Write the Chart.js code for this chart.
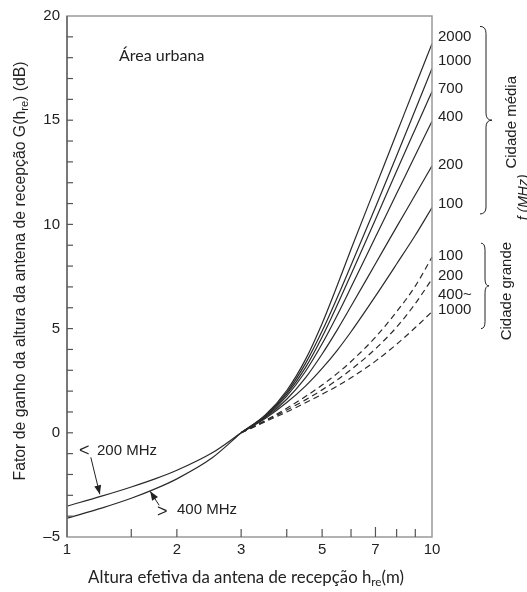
<!DOCTYPE html>
<html>
<head>
<meta charset="utf-8">
<title>Fator de ganho da altura da antena de recepção</title>
<script src="https://cdn.jsdelivr.net/npm/chart.js@4.4.0/dist/chart.umd.min.js"></script>
<style>
  html, body { margin: 0; padding: 0; background: #fff; }
  #wrap { width: 527px; height: 592px; overflow: hidden; }
</style>
</head>
<body>
<div id="wrap"><canvas id="grafico" width="527" height="592"></canvas></div>
<script>
// altura efetiva h_re (m), trecho comum 1..3 m
var alturaEsq = [1, 1.25, 1.5, 1.75, 2, 2.5, 3];
var abaixo200 = [-3.52, -3.03, -2.6, -2.2, -1.8, -0.96, 0];
var acima400  = [-4.1, -3.6, -3.14, -2.68, -2.21, -1.2, 0];

// trecho 3..10 m
var alturaDir = [3, 3.5, 4, 4.5, 5, 5.5, 6, 7, 8, 9, 10];
// cidade média (linhas cheias)
var media2000 = [0, 0.87, 2.03, 3.51, 5.25, 7.07, 8.81, 11.79, 14.37, 16.65, 18.67];
var media1000 = [0, 0.84, 1.94, 3.32, 4.88, 6.49, 8.04, 10.82, 13.29, 15.5, 17.48];
var media700  = [0, 0.8, 1.85, 3.13, 4.6, 6.13, 7.6, 10.24, 12.56, 14.58, 16.38];
var media400  = [0, 0.77, 1.76, 2.94, 4.27, 5.64, 6.98, 9.39, 11.48, 13.32, 14.95];
var media200  = [0, 0.74, 1.61, 2.63, 3.78, 4.94, 6.07, 8.11, 9.88, 11.42, 12.81];
var media100  = [0, 0.7, 1.45, 2.24, 3.09, 3.96, 4.85, 6.56, 8.1, 9.48, 10.81];
// cidade grande (tracejadas)
var grande100 = [0, 0.6, 1.18, 1.74, 2.29, 2.85, 3.42, 4.59, 5.81, 7.04, 8.43];
var grande200 = [0, 0.57, 1.09, 1.58, 2.06, 2.54, 3.03, 4.03, 5.07, 6.2, 7.38];
var grande400 = [0, 0.54, 1.0, 1.44, 1.85, 2.24, 2.64, 3.44, 4.25, 5.05, 5.81];

var rotulosMedia  = ['2000', '1000', '700', '400', '200', '100'];
var rotulosGrande = ['100', '200', '400~', '1000'];
// altura dos rótulos à direita (em dB)
var posMedia  = [19.0, 17.86, 16.48, 15.14, 12.86, 11.0];
var posGrande = [8.48, 7.52, 6.62, 5.9];

var xRotulos = [1, 2, 3, 5, 7, 10];
var xMarcas  = [1.5, 2, 3, 4, 5, 6, 7, 8, 9];
var yRotulos = [-5, 0, 5, 10, 15, 20];

var COR = '#2a2a2a';
var ARIAL = '"Liberation Sans", Arial, sans-serif';
var CALIBRI = 'Lato, "Open Sans", sans-serif';

function pontos(xs, ys) {
    return xs.map(function (x, i) { return { x: x, y: ys[i] }; });
}
function serie(xs, ys, tracejada) {
    return {
        data: pontos(xs, ys),
        borderColor: COR,
        borderWidth: 1.2,
        borderDash: tracejada ? [6, 4] : [],
        pointRadius: 0,
        cubicInterpolationMode: 'monotone',
        fill: false
    };
}

function seta(ctx, x1, y1, x2, y2) {
    var a = Math.atan2(y2 - y1, x2 - x1);
    ctx.beginPath();
    ctx.moveTo(x1, y1);
    ctx.lineTo(x2, y2);
    ctx.stroke();
    ctx.beginPath();
    ctx.moveTo(x2, y2);
    ctx.lineTo(x2 - 9 * Math.cos(a) + 3.5 * Math.sin(a), y2 - 9 * Math.sin(a) - 3.5 * Math.cos(a));
    ctx.lineTo(x2 - 9 * Math.cos(a) - 3.5 * Math.sin(a), y2 - 9 * Math.sin(a) + 3.5 * Math.cos(a));
    ctx.closePath();
    ctx.fill();
}

function chave(ctx, x, y1, y2, w) {
    var ym = (y1 + y2) / 2, r = 7, xm = x + w / 2;
    ctx.beginPath();
    ctx.moveTo(x, y1);
    ctx.quadraticCurveTo(xm, y1, xm, y1 + r);
    ctx.lineTo(xm, ym - r);
    ctx.quadraticCurveTo(xm, ym, x + w, ym);
    ctx.quadraticCurveTo(xm, ym, xm, ym + r);
    ctx.lineTo(xm, y2 - r);
    ctx.quadraticCurveTo(xm, y2, x, y2);
    ctx.stroke();
}

// texto com subscrito "re"
function textoSub(ctx, partes, x, y, tam, familia) {
    var total = 0;
    partes.forEach(function (p) {
        ctx.font = (p.sub ? tam * 0.7 : tam) + 'px ' + familia;
        total += ctx.measureText(p.t).width;
    });
    var cx = x - total / 2;
    partes.forEach(function (p) {
        ctx.font = (p.sub ? tam * 0.7 : tam) + 'px ' + familia;
        ctx.fillText(p.t, cx, p.sub ? y + tam * 0.25 : y);
        cx += ctx.measureText(p.t).width;
    });
}

var anotacoes = {
    id: 'anotacoes',
    afterDraw: function (chart) {
        var ctx = chart.ctx, ca = chart.chartArea;
        var sx = chart.scales.x, sy = chart.scales.y;
        ctx.save();

        // moldura
        ctx.lineWidth = 1.5;
        ctx.strokeStyle = '#999';
        ctx.strokeRect(ca.left, ca.top, ca.right - ca.left, ca.bottom - ca.top);
        ctx.strokeStyle = '#666';
        ctx.beginPath();
        ctx.moveTo(ca.left, ca.top);
        ctx.lineTo(ca.left, ca.bottom);
        ctx.stroke();

        // marcas internas
        ctx.lineWidth = 1.2;
        ctx.strokeStyle = '#555';
        for (var v = -4; v < 20; v++) {
            var py = sy.getPixelForValue(v);
            ctx.beginPath();
            ctx.moveTo(ca.left, py);
            ctx.lineTo(ca.left + 6, py);
            ctx.stroke();
        }
        xMarcas.forEach(function (m) {
            var px = sx.getPixelForValue(m);
            ctx.beginPath();
            ctx.moveTo(px, ca.bottom);
            ctx.lineTo(px, ca.bottom - (m === 7 ? 10 : 8));
            ctx.stroke();
        });

        ctx.fillStyle = '#222';
        ctx.strokeStyle = '#222';
        ctx.textBaseline = 'middle';
        ctx.textAlign = 'left';

        // rótulos de frequência à direita
        ctx.font = '15px ' + ARIAL;
        rotulosMedia.forEach(function (t, i) {
            ctx.fillText(t, ca.right + 6, sy.getPixelForValue(posMedia[i]));
        });
        rotulosGrande.forEach(function (t, i) {
            ctx.fillText(t, ca.right + 6, sy.getPixelForValue(posGrande[i]));
        });

        // chaves
        ctx.lineWidth = 1;
        chave(ctx, ca.right + 48, sy.getPixelForValue(19.5), sy.getPixelForValue(10.5), 12);
        chave(ctx, ca.right + 49, sy.getPixelForValue(9.1), sy.getPixelForValue(5.0), 8);

        // textos verticais
        ctx.save();
        ctx.translate(512, sy.getPixelForValue(14.9));
        ctx.rotate(-Math.PI / 2);
        ctx.textAlign = 'center';
        ctx.font = '15px ' + ARIAL;
        ctx.fillText('Cidade média', 0, 0);
        ctx.restore();

        ctx.save();
        ctx.translate(507, sy.getPixelForValue(6.8));
        ctx.rotate(-Math.PI / 2);
        ctx.textAlign = 'center';
        ctx.font = '15px ' + ARIAL;
        ctx.fillText('Cidade grande', 0, 0);
        ctx.restore();

        // rótulo cortado pela borda, como no original
        ctx.save();
        ctx.translate(528, sy.getPixelForValue(11.3));
        ctx.rotate(-Math.PI / 2);
        ctx.textAlign = 'center';
        ctx.textBaseline = 'alphabetic';
        ctx.font = 'italic 14px ' + ARIAL;
        ctx.fillText('f (MHz)', 0, 0);
        ctx.restore();

        // Área urbana
        ctx.font = '16px ' + CALIBRI;
        ctx.fillText('Área urbana', 119, sy.getPixelForValue(18.1));

        // < 200 MHz  /  > 400 MHz
        ctx.font = '15px ' + ARIAL;
        ctx.fillText('200 MHz', 97, sy.getPixelForValue(-0.86));
        ctx.fillText('400 MHz', 177, sy.getPixelForValue(-3.68));
        ctx.font = '18px ' + ARIAL;
        ctx.fillText('<', 79, sy.getPixelForValue(-0.86));
        ctx.fillText('>', 157, sy.getPixelForValue(-3.78));
        ctx.lineWidth = 1;
        var t1x = sx.getPixelForValue(1.23), t1y = sy.getPixelForValue(-3.0);
        seta(ctx, t1x - 9, t1y - 38, t1x, t1y - 1);
        var t2x = sx.getPixelForValue(1.69), t2y = sy.getPixelForValue(-2.76);
        seta(ctx, t2x + 9, t2y + 15, t2x, t2y + 1);

        // títulos dos eixos
        ctx.textBaseline = 'middle';
        textoSub(ctx, [
            { t: 'Altura efetiva da antena de recepção h' },
            { t: 're', sub: true },
            { t: '(m)' }
        ], 246, 578, 16.8, CALIBRI);

        ctx.save();
        ctx.translate(21, 271);
        ctx.rotate(-Math.PI / 2);
        textoSub(ctx, [
            { t: 'Fator de ganho da altura da antena de recepção G(h' },
            { t: 're', sub: true },
            { t: ') (dB)' }
        ], 0, 0, 15.8, ARIAL);
        ctx.restore();

        ctx.restore();
    }
};

new Chart(document.getElementById('grafico'), {
    type: 'line',
    data: {
        datasets: [
            serie(alturaEsq, abaixo200, false),
            serie(alturaEsq, acima400, false),
            serie(alturaDir, media2000, false),
            serie(alturaDir, media1000, false),
            serie(alturaDir, media700, false),
            serie(alturaDir, media400, false),
            serie(alturaDir, media200, false),
            serie(alturaDir, media100, false),
            serie(alturaDir, grande100, true),
            serie(alturaDir, grande200, true),
            serie(alturaDir, grande400, true)
        ]
    },
    options: {
        responsive: false,
        animation: false,
        devicePixelRatio: 1,
        layout: { padding: { top: 12, right: 95, left: 0, bottom: 0 } },
        plugins: { legend: { display: false }, tooltip: { enabled: false } },
        scales: {
            x: {
                type: 'logarithmic',
                min: 1,
                max: 10,
                afterFit: function (s) { s.height = 55; },
                afterBuildTicks: function (s) {
                    s.ticks = xRotulos.map(function (v) { return { value: v }; });
                },
                grid: { display: false, drawTicks: false },
                border: { display: false },
                ticks: {
                    padding: 4,
                    color: '#222',
                    font: { family: ARIAL, size: 15 },
                    autoSkip: false,
                    maxRotation: 0,
                    callback: function (v) { return String(v); }
                }
            },
            y: {
                type: 'linear',
                min: -5,
                max: 20,
                afterFit: function (s) { s.width = 67; },
                afterBuildTicks: function (s) {
                    s.ticks = yRotulos.map(function (v) { return { value: v }; });
                },
                grid: { display: false, drawTicks: false },
                border: { display: false },
                ticks: {
                    padding: 7,
                    color: '#222',
                    font: { family: ARIAL, size: 15 },
                    callback: function (v) { return v < 0 ? '\u2013' + Math.abs(v) : String(v); }
                }
            }
        }
    },
    plugins: [anotacoes]
});
</script>
</body>
</html>
